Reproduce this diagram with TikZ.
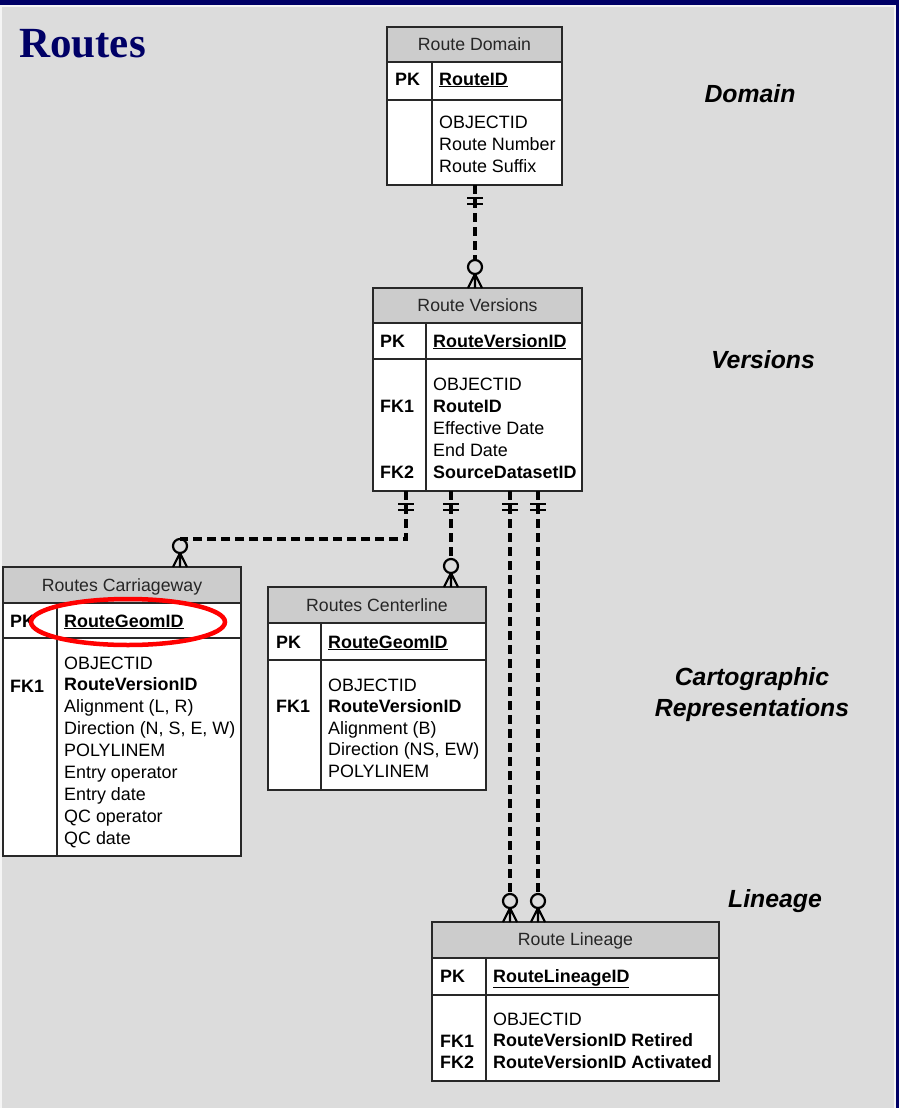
\documentclass[tikz,border=0pt]{standalone}
\usepackage{fontspec}
\setmainfont{Liberation Sans}
\newfontfamily\titlefont{Liberation Serif}
\usetikzlibrary{calc}
\definecolor{navy}{RGB}{0,0,102}
\definecolor{bgc}{RGB}{220,220,220}
\definecolor{hdrc}{RGB}{204,204,204}
\definecolor{boxc}{RGB}{40,40,40}
\newcommand\mone[1]{\draw[mk] ($(#1)+(-8,13)$) -- ++(16,0); \draw[mk] ($(#1)+(-8,19)$) -- ++(16,0);}
\newcommand\mmany[1]{\draw[mk] ($(#1)+(0,-21)$) circle[radius=7pt];
  \draw[mk] ($(#1)+(0,-14)$) -- ($(#1)+(-7,0)$) ($(#1)+(0,-14)$) -- (#1) ($(#1)+(0,-14)$) -- ($(#1)+(7,0)$);}
\begin{document}
\begin{tikzpicture}[x=1pt,y=-1pt,
  tbox/.style={draw=boxc, line width=1.1pt, fill=white, inner sep=0pt, anchor=north west, outer sep=0pt},
  thdr/.style={tbox, fill=hdrc},
  htxt/.style={anchor=base, inner sep=0pt, text=black!85, font=\fontsize{17.7}{20}\selectfont},
  fld/.style={anchor=base west, inner sep=0pt, font=\fontsize{17.9}{21}\selectfont},
  key/.style={fld, font=\bfseries\fontsize{17.9}{21}\selectfont},
  lbl/.style={anchor=base, inner sep=0pt, font=\bfseries\itshape\fontsize{24.8}{28}\selectfont},
  conn/.style={line width=3.2pt, dash pattern=on 9pt off 5pt},
  mk/.style={line width=2.2pt, solid},
  divl/.style={draw=boxc, line width=1.1pt}]
\useasboundingbox (0,0) rectangle (899,1108);
\fill[navy] (0,0) rectangle (899,1108);
\fill[white!92!gray] (0,5) rectangle (896,1108);
\fill[bgc] (1.5,7) rectangle (894,1108);

% title
\node[anchor=base west, inner sep=0pt, text=navy, font=\titlefont\bfseries\fontsize{43}{46}\selectfont] (title) at (19,58) {Routes};

% level labels
\node[lbl] (lDom) at (750,102.6) {Domain};
\node[lbl] (lVer) at (763,368.6) {Versions};
\node[lbl] (lCar1) at (752,685.6) {Cartographic};
\node[lbl] (lCar2) at (752,716.6) {Representations};
\node[lbl] (lLin) at (775,907) {Lineage};

% ---------- Route Domain ----------
\node[thdr, minimum width=175pt, minimum height=35pt] (domH) at (387,27) {};
\node[tbox, minimum width=175pt, minimum height=38pt] (domP) at (387,62) {};
\node[tbox, minimum width=175pt, minimum height=85pt] (domB) at (387,100) {};
\draw[divl] ($(domP.north west)+(45,0)$) -- ($(domB.south west)+(45,0)$);
\node[htxt] (domT) at (474.5,50.5) {Route Domain};
\node[key] (domPK) at (395,85) {PK};
\node[key] (domID) at (439,85) {\underline{RouteID}};
\foreach \t [count=\i from 0] in {OBJECTID, Route Number, Route Suffix}
  \node[fld] (domF\i) at (439,128+22*\i) {\t};

% ---------- Route Versions ----------
\node[thdr, minimum width=209pt, minimum height=35pt] (verH) at (373,288) {};
\node[tbox, minimum width=209pt, minimum height=36pt] (verP) at (373,323) {};
\node[tbox, minimum width=209pt, minimum height=132pt] (verB) at (373,359) {};
\draw[divl] ($(verP.north west)+(53,0)$) -- ($(verB.south west)+(53,0)$);
\node[htxt] (verT) at (477.5,311) {Route Versions};
\node[key] (verPK) at (380,347) {PK};
\node[key] (verID) at (433,347) {\underline{RouteVersionID}};
\foreach \t [count=\i from 0] in {OBJECTID, \textbf{RouteID}, Effective Date, End Date, \textbf{SourceDatasetID}}
  \node[fld] (verF\i) at (433,390+22*\i) {\t};
\node[key] (verK1) at (380,412) {FK1};
\node[key] (verK2) at (380,478) {FK2};

% ---------- Routes Carriageway ----------
\node[thdr, minimum width=238pt, minimum height=36pt] (carH) at (3,567) {};
\node[tbox, minimum width=238pt, minimum height=35pt] (carP) at (3,603) {};
\node[tbox, minimum width=238pt, minimum height=218pt] (carB) at (3,638) {};
\draw[divl] ($(carP.north west)+(54,0)$) -- ($(carB.south west)+(54,0)$);
\node[htxt] (carT) at (122,591) {Routes Carriageway};
\node[key] (carPK) at (10,627) {PK};
\node[key] (carID) at (64,627) {\underline{RouteGeomID}};
\foreach \t [count=\i from 0] in {OBJECTID, \textbf{RouteVersionID}, {Alignment (L, R)}, {Direction (N, S, E, W)}, POLYLINEM, Entry operator, Entry date, QC operator, QC date}
  \node[fld] (carF\i) at (64,669+21.9*\i) {\t};
\node[key] (carK1) at (10,692) {FK1};
\draw[red, line width=4.5pt] (128,622) ellipse[x radius=97pt, y radius=23pt];

% ---------- Routes Centerline ----------
\node[thdr, minimum width=218pt, minimum height=36pt] (cenH) at (268,587) {};
\node[tbox, minimum width=218pt, minimum height=37pt] (cenP) at (268,623) {};
\node[tbox, minimum width=218pt, minimum height=130pt] (cenB) at (268,660) {};
\draw[divl] ($(cenP.north west)+(53,0)$) -- ($(cenB.south west)+(53,0)$);
\node[htxt] (cenT) at (377,611) {Routes Centerline};
\node[key] (cenPK) at (276,648) {PK};
\node[key] (cenID) at (328,648) {\underline{RouteGeomID}};
\foreach \t [count=\i from 0] in {OBJECTID, \textbf{RouteVersionID}, Alignment (B), {Direction (NS, EW)}, POLYLINEM}
  \node[fld] (cenF\i) at (328,691+21.5*\i) {\t};
\node[key] (cenK1) at (276,712) {FK1};

% ---------- Route Lineage ----------
\node[thdr, minimum width=287pt, minimum height=36pt] (linH) at (432,922) {};
\node[tbox, minimum width=287pt, minimum height=37pt] (linP) at (432,958) {};
\node[tbox, minimum width=287pt, minimum height=86pt] (linB) at (432,995) {};
\draw[divl] ($(linP.north west)+(54,0)$) -- ($(linB.south west)+(54,0)$);
\node[htxt] (linT) at (575.5,945) {Route Lineage};
\node[key] (linPK) at (440,982) {PK};
\node[key] (linID) at (493,982) {\underline{RouteLineageID}};
\foreach \t [count=\i from 0] in {OBJECTID, \textbf{RouteVersionID Retired}, \textbf{RouteVersionID Activated}}
  \node[fld] (linF\i) at (493,1025+21.5*\i) {\t};
\node[key] (linK1) at (440,1047) {FK1};
\node[key] (linK2) at (440,1068) {FK2};

% ---------- connector end points ----------
\coordinate (d1) at ($(domB.south west)+(88,0)$);
\coordinate (vt) at ($(verH.north west)+(102,0)$);
\coordinate (v1) at ($(verB.south west)+(33,0)$);
\coordinate (v2) at ($(verB.south west)+(78,0)$);
\coordinate (v3) at ($(verB.south west)+(137,0)$);
\coordinate (v4) at ($(verB.south west)+(165,0)$);
\coordinate (ct) at ($(carH.north west)+(177,0)$);
\coordinate (et) at ($(cenH.north west)+(183,0)$);
\coordinate (l1) at ($(linH.north west)+(78,0)$);
\coordinate (l2) at ($(linH.north west)+(106,0)$);

% ---------- connectors ----------
\draw[conn] (d1) -- ($(vt)+(0,-28)$);
\mone{d1} \mmany{vt}
\draw[conn] (v1) |- ($(ct)+(0,-28)$);
\mone{v1} \mmany{ct}
\draw[conn] (v2) -- ($(et)+(0,-28)$);
\mone{v2} \mmany{et}
\draw[conn] (v3) -- ($(l1)+(0,-28)$);
\mone{v3} \mmany{l1}
\draw[conn] (v4) -- ($(l2)+(0,-28)$);
\mone{v4} \mmany{l2}
\end{tikzpicture}
\end{document}
